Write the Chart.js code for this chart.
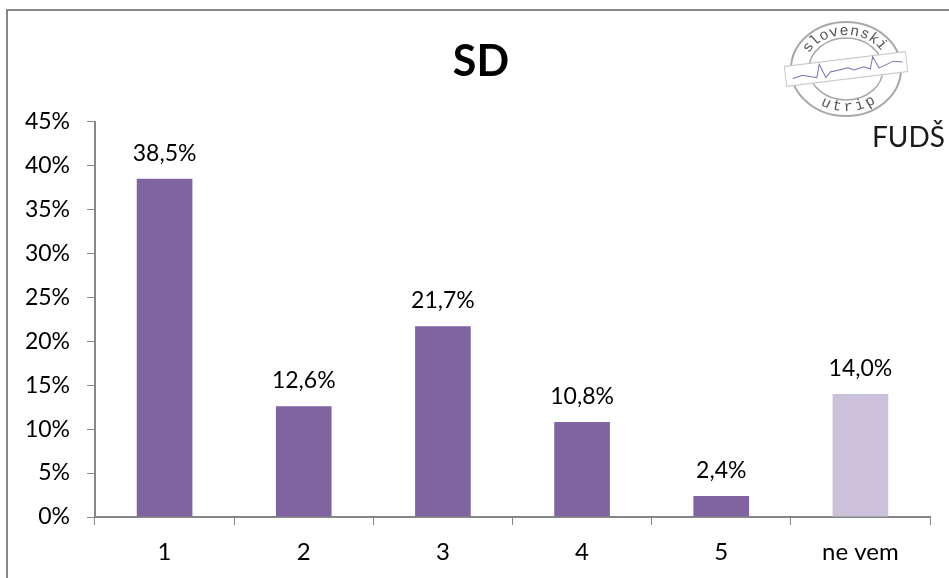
<!DOCTYPE html>
<html lang="sl">
<head>
    <meta charset="UTF-8">
    <title>SD</title>
    <script src="https://cdn.jsdelivr.net/npm/chart.js"></script>
    <style>
        html, body {
            margin: 0;
            padding: 0;
            background: #fff;
        }
        #sdChart {
            display: block;
        }
    </style>
</head>
<body>
    <canvas id="sdChart" width="949" height="578"></canvas>

    <script>
        const categories = ["1", "2", "3", "4", "5", "ne vem"];
        const values = [38.5, 12.6, 21.7, 10.8, 2.4, 14.0];
        const barColors = ["#8064A2", "#8064A2", "#8064A2", "#8064A2", "#8064A2", "#CCC1DA"];
        const chartTitle = "SD";
        const logoTop = "slovenski";
        const logoBottom = "utrip";
        const logoName = "FUDŠ";

        const axisColor = "#868686";
        const fontFamily = "Lato, 'Open Sans', sans-serif";

        // Percent labels with a decimal comma, above each bar
        const barLabels = {
            id: "barLabels",
            afterDatasetsDraw(chart) {
                const ctx = chart.ctx;
                ctx.save();
                ctx.font = "23px " + fontFamily;
                ctx.fillStyle = "#000";
                ctx.textAlign = "center";
                ctx.textBaseline = "alphabetic";
                chart.getDatasetMeta(0).data.forEach((bar, i) => {
                    ctx.fillText(values[i].toFixed(1).replace(".", ",") + "%", bar.x, bar.y - 18);
                });
                ctx.restore();
            }
        };

        function arcText(ctx, text, cx, cy, rx, ry, mid, step, bottom) {
            [...text].forEach((ch, i) => {
                const a = mid + (i - (text.length - 1) / 2) * step * (bottom ? -1 : 1);
                ctx.save();
                ctx.translate(cx + rx * Math.cos(a), cy + ry * Math.sin(a));
                ctx.rotate(bottom ? a - Math.PI / 2 : a + Math.PI / 2);
                ctx.fillText(ch, 0, 0);
                ctx.restore();
            });
        }

        // Frame around the chart and the stamp in the top right corner
        const decoration = {
            id: "decoration",
            beforeDraw(chart) {
                const ctx = chart.ctx;
                ctx.save();
                ctx.strokeStyle = axisColor;
                ctx.lineWidth = 2;
                ctx.beginPath();
                ctx.moveTo(7, 578);
                ctx.lineTo(7, 10);
                ctx.lineTo(949, 10);
                ctx.stroke();
                ctx.restore();
            },
            afterDraw(chart) {
                const ctx = chart.ctx;
                const cx = 846, cy = 69;
                ctx.save();

                ctx.strokeStyle = "#a8a8a8";
                ctx.lineWidth = 2;
                ctx.beginPath();
                ctx.ellipse(cx, cy, 55, 47, 0, 0, Math.PI * 2);
                ctx.stroke();
                ctx.lineWidth = 1.5;
                ctx.beginPath();
                ctx.ellipse(cx, cy, 37, 31, 0, 0, Math.PI * 2);
                ctx.stroke();

                ctx.fillStyle = "#555";
                ctx.font = "15px 'Liberation Mono', monospace";
                ctx.textAlign = "center";
                ctx.textBaseline = "middle";
                arcText(ctx, logoTop, cx, cy, 46, 38, -Math.PI / 2 - 0.04, 0.23, false);
                arcText(ctx, logoBottom, cx, cy, 46, 38, Math.PI / 2 - 0.05, 0.25, true);

                ctx.save();
                ctx.translate(cx, cy);
                ctx.rotate(-7 * Math.PI / 180);
                ctx.fillStyle = "#fff";
                ctx.strokeStyle = "#c8c8c8";
                ctx.lineWidth = 1;
                ctx.fillRect(-61, -10, 122, 20);
                ctx.strokeRect(-61, -10, 122, 20);
                ctx.strokeStyle = "#7a72b4";
                ctx.beginPath();
                ctx.moveTo(-54, 3);
                ctx.lineTo(-44, 1);
                ctx.lineTo(-34, 4);
                ctx.lineTo(-30, 5);
                ctx.lineTo(-26, -8);
                ctx.lineTo(-21, 6);
                ctx.lineTo(-16, 1);
                ctx.lineTo(-6, 0);
                ctx.lineTo(2, -1);
                ctx.lineTo(8, 2);
                ctx.lineTo(18, 0);
                ctx.lineTo(24, 3);
                ctx.lineTo(28, -9);
                ctx.lineTo(33, 3);
                ctx.lineTo(42, 0);
                ctx.lineTo(48, -2);
                ctx.lineTo(57, 0);
                ctx.stroke();
                ctx.restore();

                ctx.fillStyle = "#1a1a1a";
                ctx.font = "28px " + fontFamily;
                ctx.textAlign = "left";
                ctx.textBaseline = "alphabetic";
                ctx.fillText(logoName, 872, 147);
                ctx.restore();
            }
        };

        new Chart(document.getElementById("sdChart").getContext("2d"), {
            type: "bar",
            data: {
                labels: categories,
                datasets: [{
                    data: values,
                    backgroundColor: barColors,
                    categoryPercentage: 1,
                    barPercentage: 0.4
                }]
            },
            plugins: [decoration, barLabels],
            options: {
                responsive: false,
                animation: false,
                layout: {
                    padding: { left: 13, right: 0, top: 36, bottom: 0 }
                },
                plugins: {
                    legend: { display: false },
                    tooltip: { enabled: false },
                    title: {
                        display: true,
                        text: chartTitle,
                        color: "#000",
                        font: { family: fontFamily, size: 43, weight: "bold" },
                        padding: { top: 0, bottom: 34 }
                    }
                },
                scales: {
                    x: {
                        afterFit(scale) { scale.height = 61; scale.paddingRight = 19; },
                        grid: {
                            drawOnChartArea: false,
                            color: axisColor,
                            tickLength: 8
                        },
                        border: { color: axisColor, width: 2 },
                        ticks: {
                            color: "#000",
                            padding: 13,
                            font: { family: fontFamily, size: 24 }
                        }
                    },
                    y: {
                        min: 0,
                        max: 45,
                        afterFit(scale) { scale.width = 82; },
                        grid: {
                            drawOnChartArea: false,
                            color: axisColor,
                            tickLength: 8
                        },
                        border: { color: axisColor, width: 2 },
                        ticks: {
                            stepSize: 5,
                            color: "#000",
                            padding: 17,
                            font: { family: fontFamily, size: 23 },
                            callback: v => v + "%"
                        }
                    }
                }
            }
        });
    </script>
</body>
</html>
